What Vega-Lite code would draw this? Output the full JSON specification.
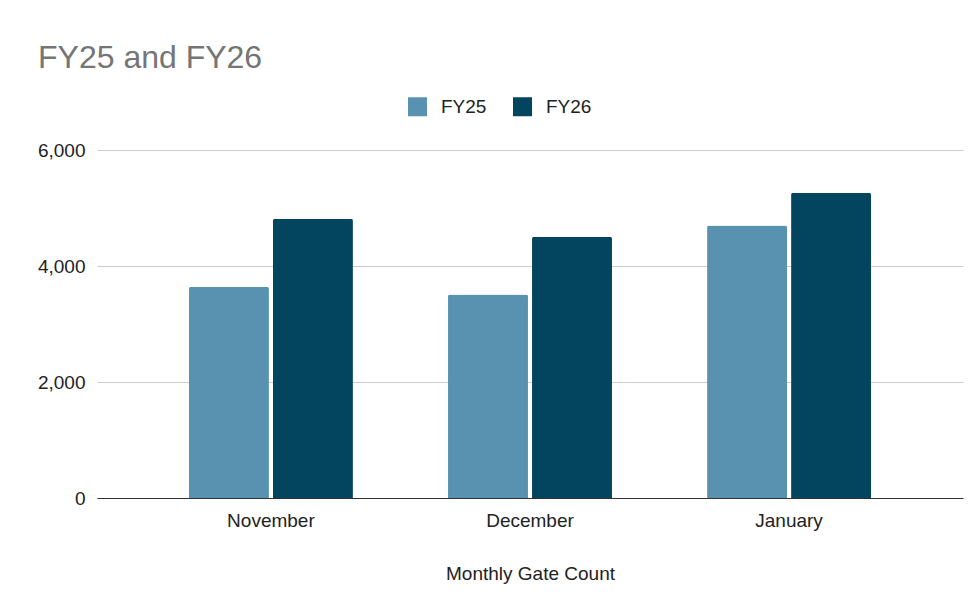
{
  "$schema": "https://vega.github.io/schema/vega-lite/v6.json",
  "autosize": "none",
  "width": 866,
  "height": 348,
  "padding": {"left": 97, "top": 150, "right": 17, "bottom": 109},
  "background": "white",
  "title": {
    "text": "FY25 and FY26",
    "anchor": "start",
    "frame": "group",
    "dx": -59,
    "offset": 22,
    "fontSize": 32,
    "fontWeight": "normal",
    "font": "Liberation Sans",
    "color": "#757575"
  },
  "data": {
    "values": [
      {"month": "November", "year": "FY25", "count": 3640},
      {"month": "November", "year": "FY26", "count": 4815},
      {"month": "December", "year": "FY25", "count": 3510},
      {"month": "December", "year": "FY26", "count": 4505},
      {"month": "January", "year": "FY25", "count": 4700},
      {"month": "January", "year": "FY26", "count": 5265}
    ]
  },
  "mark": {"type": "bar", "cornerRadiusTopLeft": 2, "cornerRadiusTopRight": 2},
  "encoding": {
    "x": {
      "field": "month",
      "type": "nominal",
      "sort": ["November", "December", "January"],
      "scale": {"paddingInner": 0.367, "paddingOuter": 0.355},
      "axis": {
        "title": "Monthly Gate Count",
        "labelAngle": 0,
        "ticks": false,
        "labelPadding": 13,
        "titlePadding": 34,
        "domainColor": "#333333",
        "domainWidth": 1.2
      }
    },
    "xOffset": {
      "field": "year",
      "type": "nominal",
      "scale": {"paddingInner": 0.048, "paddingOuter": 0}
    },
    "y": {
      "field": "count",
      "type": "quantitative",
      "scale": {"domain": [0, 6000]},
      "axis": {
        "title": null,
        "values": [0, 2000, 4000, 6000],
        "format": ",.0f",
        "domain": false,
        "ticks": false,
        "labelPadding": 12,
        "gridColor": "#cccccc",
        "gridWidth": 1
      }
    },
    "color": {
      "field": "year",
      "type": "nominal",
      "scale": {"domain": ["FY25", "FY26"], "range": ["#5992b0", "#03445f"]},
      "legend": {
        "title": null,
        "orient": "none",
        "direction": "horizontal",
        "legendX": 311,
        "legendY": -53,
        "symbolType": "square",
        "symbolSize": 361,
        "symbolStrokeWidth": 0,
        "labelOffset": 14,
        "columnPadding": 26,
        "labelFontSize": 19
      }
    }
  },
  "config": {
    "font": "Liberation Sans",
    "view": {"stroke": null},
    "axis": {
      "labelFont": "Liberation Sans",
      "titleFont": "Liberation Sans",
      "labelFontSize": 19,
      "titleFontSize": 19,
      "titleFontWeight": "normal",
      "labelColor": "#222222",
      "titleColor": "#222222"
    },
    "legend": {"labelFont": "Liberation Sans", "labelColor": "#222222"}
  }
}
